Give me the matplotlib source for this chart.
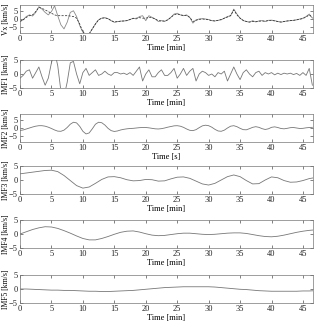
import numpy as np
import matplotlib
matplotlib.use("Agg")
import matplotlib.pyplot as plt

plt.rcParams['font.family'] = ['Liberation Serif', 'DejaVu Serif']
plt.rcParams['font.size'] = 6

# time grids [min]
t_fine = np.arange(0, 46.75, 0.5)
t_coarse = np.arange(0, 48, 1.0)

vx_raw = [-1.5, -0.5, 1.5, 2.5, 1.8, 4.0, 7.5, 6.0, 4.0, 2.5,
          4.5, 8.0, 2.0, -3.5, -6.0, -2.0, 4.0, 5.0, 1.5, -4.0,
          -8.0, -9.5, -9.0, -6.0, -3.0, -0.5, 0.5, 0.8, 0.2, -1.0,
          -2.0, -1.6, -1.3, -1.2, -1.0, -0.3, 0.5, 0.0, 1.5, 2.0,
          -1.0, 2.0, 1.0, 0.0, -1.5, -1.0, -1.5, -0.5, 1.0, 3.0,
          3.5, 2.5, 2.0, 2.5, 1.0, -2.5, -0.5, 0.0, 0.2, 0.0,
          -0.3, -1.0, -1.2, -0.8, -0.5, 0.5, 1.5, 2.0, 6.0, 3.0,
          0.5, -1.0, -1.5, -2.0, -1.0, -1.8, -1.2, -1.0, -1.5, -0.8,
          -0.7, -1.0, -1.5, -2.0, -1.5, -1.2, -1.0, -0.8, -0.5, 0.0,
          0.5, 1.5, 3.0, 0.5]
vx_smooth = [-1.5, -0.5, 1.0, 2.0, 2.5, 4.5, 7.0, 6.5, 5.5, 4.5,
             3.5, 2.5, 2.0, 2.0, 2.0, 2.0, 1.8, 1.5, 0.5, -3.0,
             -8.0, -9.5, -9.0, -6.0, -3.0, -0.5, 0.5, 0.7, 0.2, -1.0,
             -1.8, -1.6, -1.3, -1.2, -1.0, -0.3, 0.3, 0.5, 0.8, 0.5,
             0.5, 1.0, 0.8, 0.0, -1.0, -1.2, -1.2, -0.5, 1.0, 2.5,
             3.0, 2.5, 2.2, 2.0, 1.0, -1.5, -0.8, -0.2, 0.0, -0.2,
             -0.5, -1.0, -1.2, -0.8, -0.3, 0.5, 1.2, 2.0, 5.5, 2.5,
             0.5, -0.8, -1.5, -1.8, -1.5, -1.5, -1.3, -1.2, -1.3, -1.0,
             -0.8, -1.2, -1.5, -1.8, -1.5, -1.2, -1.0, -0.8, -0.5, -0.2,
             0.3, 1.2, 2.5, 1.0]
imf1 = [-1.5, -0.5, 1.0, 1.5, -1.5, 0.5, 2.5, -1.0, -4.0, -1.5,
        4.0, 8.0, 3.0, -6.0, -8.0, -3.0, 4.0, 4.5, 0.0, -3.5,
        0.5, 2.0, -0.5, 0.5, 1.5, -0.5, 0.0, 1.0, 0.0, -0.5,
        0.5, 0.5, 0.0, 0.3, -0.2, 0.5, -0.5, 1.0, 2.5, -2.5,
        0.0, 1.5, -1.0, -1.0, 0.5, 1.5, -0.5, -0.5, 0.5, 2.0,
        -1.5, 0.0, 2.0, -0.5, 1.0, 2.0, -2.5, 0.0, 1.0, 0.5,
        -0.5, 0.0, -1.0, 0.5, 0.0, 1.0, -2.5, 0.0, 2.5, 0.0,
        -2.0, 0.5, 1.5, 0.0, -1.0, 0.5, 1.0, -0.5, 0.5, 0.0,
        0.5, -0.3, 0.3, -0.2, 0.3, 0.0, 0.3, -0.2, 0.2, -0.5,
        0.5, -0.5, 2.0, -4.0]
imf2 = [-1.5, -1.2, -0.6, 0.0, 0.6, 1.1, 1.4, 1.4, 1.1, 0.5,
        -0.3, -1.2, -1.9, -2.0, -1.3, 0.3, 2.3, 3.5, 3.1, 1.0,
        -2.0, -3.6, -3.0, -0.5, 2.3, 3.5, 3.2, 1.8, -0.2, -1.6,
        -2.1, -1.8, -1.2, -0.8, -0.5, -0.3, -0.2, 0.0, 0.2, 0.3,
        0.3, 0.1, -0.2, -0.5, -0.6, -0.4, 0.0, 0.5, 0.9, 1.3,
        1.4, 1.1, 0.4, -0.6, -1.4, -1.6, -1.0, 0.2, 1.3, 1.7,
        1.4, 0.5, -0.8, -1.8, -2.0, -1.3, 0.0, 1.1, 1.4, 0.8,
        -0.2, -1.0, -1.1, -0.4, 0.4, 0.8, 0.4, -0.4, -0.9, -0.5,
        0.4, 0.7, 0.3, -0.3, -0.5, -0.2, 0.2, 0.3, 0.0, -0.3,
        -0.2, 0.1, 0.3, 0.4]
imf3 = [2.2, 2.5, 2.8, 3.1, 3.4, 3.5, 3.0, 1.6, -0.2, -2.0,
        -2.9, -2.5, -1.2, 0.2, 1.1, 1.2, 0.8, 0.1, -0.3, -0.2,
        0.2, 0.1, -0.4, -0.3, 0.4, 1.0, 1.1, 0.6, -0.4, -1.4,
        -1.8, -1.2, 0.0, 1.2, 1.8, 1.2, -0.2, -1.4, -1.3, 0.0,
        1.1, 0.8, -0.2, -0.8, -0.7, -0.2, 0.5, 0.9]
imf4 = [0.0, 0.8, 1.6, 2.2, 2.6, 2.5, 2.0, 1.2, 0.3, -0.7,
        -1.6, -2.1, -2.1, -1.6, -0.9, -0.1, 0.6, 1.0, 1.1, 0.7,
        0.1, -0.4, -0.6, -0.5, -0.2, 0.1, 0.3, 0.3, 0.1, -0.1,
        -0.2, -0.1, 0.1, 0.3, 0.4, 0.4, 0.2, -0.2, -0.6, -0.9,
        -1.0, -0.8, -0.4, 0.1, 0.6, 1.0, 1.3, 1.5]
imf5 = [0.0, 0.0, -0.1, -0.2, -0.3, -0.4, -0.4, -0.5, -0.5, -0.6,
        -0.7, -0.8, -0.8, -0.9, -0.9, -0.8, -0.7, -0.6, -0.5, -0.3,
        -0.1, 0.1, 0.3, 0.5, 0.6, 0.7, 0.8, 0.8, 0.8, 0.8,
        0.8, 0.7, 0.5, 0.3, 0.1, -0.1, -0.2, -0.4, -0.6, -0.7,
        -0.8, -0.8, -0.8, -0.8, -0.8, -0.7, -0.7, -0.6]

ylabels = ['Vx [km/s]', 'IMF1 [km/s]', 'IMF2 [km/s]', 'IMF3 [km/s]', 'IMF4 [km/s]', 'IMF5 [km/s]']
xlabels = ['Time [min]', 'Time [min]', 'Time [s]', 'Time [min]', 'Time [min]', 'Time [min]']
ylims = [(-8.5, 8.5), (-5, 5), (-8.5, 8.5), (-5, 5), (-5, 5), (-5, 5)]
tops = [5, 60, 114, 166, 220, 275]

W, H = 314, 323
fig = plt.figure(figsize=(W / 100, H / 100), dpi=100)

axes = []
for i in range(6):
    ax = fig.add_axes([20 / W, 1 - (tops[i] + 28) / H, 293 / W, 28 / H])
    ax.set_xlim(0, 46.6)
    ax.set_ylim(*ylims[i])
    ax.set_xticks(np.arange(0, 46, 5))
    ax.set_yticks([-5, 0, 5])
    ax.tick_params(direction='in', top=True, right=True, length=2, width=0.4,
                   pad=1.5, labelsize=6, colors='#222222')
    for s in ax.spines.values():
        s.set_linewidth(0.5)
        s.set_color('#777777')
    ax.set_xlabel(xlabels[i], labelpad=1)
    ax.set_ylabel(ylabels[i], fontsize=5.5)
    ax.yaxis.set_label_coords(-0.034, 0.5)
    axes.append(ax)

axes[0].plot(t_fine, vx_raw, '-', color='#8a8a8a', lw=0.6)
axes[0].plot(t_fine, vx_smooth, '--', color='#222222', lw=0.5, dashes=(3, 2))
axes[1].plot(t_fine, imf1, '-', color='#777777', lw=0.6)
axes[2].plot(t_fine, imf2, '-', color='#777777', lw=0.6)
axes[3].plot(t_coarse, imf3, '-', color='#777777', lw=0.6)
axes[4].plot(t_coarse, imf4, '-', color='#777777', lw=0.6)
axes[5].plot(t_coarse, imf5, '-', color='#777777', lw=0.6)

fig.savefig('out.png', dpi=100)
